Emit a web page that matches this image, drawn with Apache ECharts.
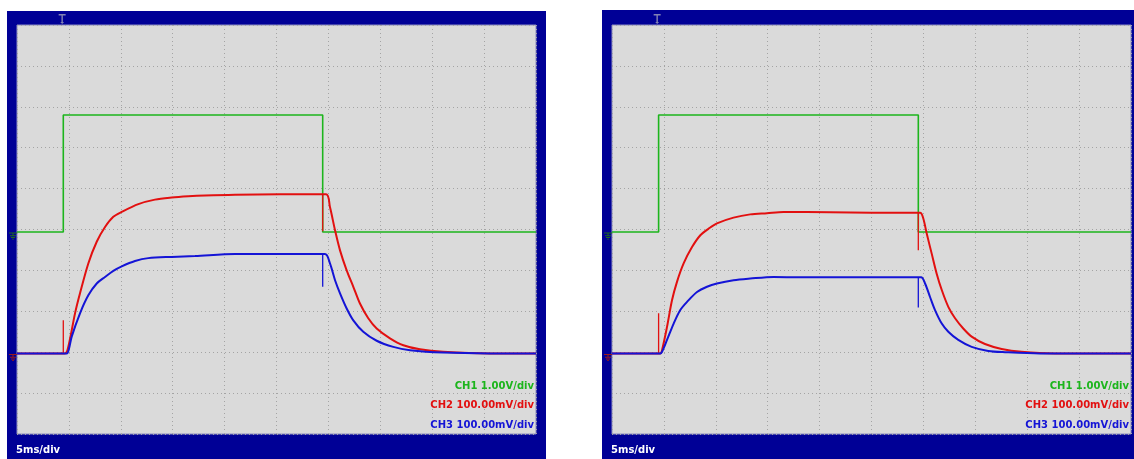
<!DOCTYPE html>
<html>
<head>
<meta charset="utf-8">
<script src="https://cdn.jsdelivr.net/npm/echarts@6/dist/echarts.min.js"></script>
<style>
  html, body { margin: 0; padding: 0; background: #fff; }
  #chart { width: 1134px; height: 459px; }
</style>
</head>
<body>
<div id="chart"></div>
<script>
// two scope captures, x in ms (5ms/div, 10 div), y in screen divisions (0..10)
const timeTicks = [0, 5, 10, 15, 20, 25, 30, 35, 40, 45, 50];
const divTicks = [0, 1, 2, 3, 4, 5, 6, 7, 8, 9, 10];

const chNames = ['CH1 1.00V/div', 'CH2 100.00mV/div', 'CH3 100.00mV/div'];
const timeLabel = '5ms/div';

// ground reference levels (div) for CH1 and CH2/CH3, trigger time (ms)
const groundLevels = [4.94, 1.97];
const triggerTimes = [4.35, 4.35];

// left capture
const leftCh1 = [[0, 4.94], [4.46, 4.94], [4.46, 7.80], [29.45, 7.80], [29.45, 4.94], [50, 4.94]];
const leftCh2 = [[0, 1.97], [4.62, 1.97], [4.94, 2.13],
  [5.59, 2.95], [6.07, 3.44], [6.87, 4.17], [7.68, 4.70], [8.48, 5.06], [9.28, 5.31], [10.09, 5.43],
  [11.69, 5.62], [13.29, 5.73], [14.90, 5.78], [16.50, 5.81], [18.11, 5.83], [21.00, 5.85],
  [25.34, 5.86], [29.77, 5.86], [30.15, 5.55],
  [30.64, 4.98], [31.12, 4.49], [31.76, 4.00], [32.40, 3.60], [33.04, 3.19], [33.84, 2.83],
  [34.65, 2.58], [35.93, 2.34], [37.22, 2.17], [38.82, 2.07], [41.07, 2.01], [45.57, 1.97], [50, 1.97]];
const leftCh3 = [[0, 1.97], [4.79, 1.97], [5.00, 2.08], [5.27, 2.38], [6.07, 2.95], [6.87, 3.39],
  [7.68, 3.68], [8.48, 3.84], [9.28, 3.99], [10.09, 4.10], [11.37, 4.23], [12.65, 4.30],
  [14.90, 4.33], [17.15, 4.35], [21.00, 4.40], [29.67, 4.40], [30.15, 4.17], [30.64, 3.76],
  [31.12, 3.44], [31.76, 3.07], [32.40, 2.78],
  [33.36, 2.50], [34.65, 2.28], [36.25, 2.13], [37.86, 2.05], [41.04, 1.99], [45.57, 1.97], [50, 1.97]];
// glitches on the traces: [ms, from div, to div]
const leftCh2Spikes = [[4.46, 1.97, 2.78], [29.45, 5.87, 4.96]];
const leftCh3Spikes = [[29.45, 4.40, 3.60]];

// right capture
const rightCh1 = [[0, 4.94], [4.49, 4.94], [4.49, 7.80], [29.51, 7.80], [29.51, 4.94], [50, 4.94]];
const rightCh2 = [[0, 1.97], [4.66, 1.97], [4.82, 2.05],
  [5.30, 2.62], [5.78, 3.27], [6.26, 3.72], [6.90, 4.17], [7.71, 4.57], [8.51, 4.86], [9.31, 5.02],
  [10.11, 5.15], [11.71, 5.29], [13.32, 5.37], [14.93, 5.40], [16.52, 5.43], [21.02, 5.42],
  [25.00, 5.41], [29.68, 5.41], [29.99, 5.27],
  [30.32, 4.90], [30.80, 4.41], [31.28, 3.92], [31.77, 3.52], [32.40, 3.11], [33.05, 2.83],
  [33.84, 2.58], [34.65, 2.38], [35.93, 2.20], [37.54, 2.08], [39.46, 2.01], [42.67, 1.97], [50, 1.97]];
const rightCh3 = [[0, 1.97], [4.66, 1.97], [4.82, 2.01], [5.30, 2.30], [5.94, 2.70], [6.58, 3.03],
  [7.23, 3.23], [8.19, 3.47], [9.15, 3.60], [10.11, 3.68], [11.71, 3.76], [13.32, 3.80],
  [15.56, 3.84], [18.14, 3.83], [21.02, 3.83], [29.77, 3.83], [30.16, 3.68], [30.64, 3.35],
  [31.12, 3.03], [31.77, 2.70], [32.40, 2.50],
  [33.36, 2.30], [34.65, 2.13], [36.25, 2.03], [37.86, 2.00], [41.23, 1.97], [50, 1.97]];
const rightCh2Spikes = [[4.49, 1.97, 2.95], [29.51, 5.41, 4.49]];
const rightCh3Spikes = [[29.51, 3.83, 3.09]];

const traceColors = ['#1cb51c', '#e21010', '#1414d6'];
const groundColors = ['#1f6b1f', '#9c1a1a'];
const frameColor = '#000096';

// little scope glyphs
const groundPath = 'path://M0,0H8V1H0Z M3.5,0H4.5V3H3.5Z M1,3H7V4H1Z M2,4.8H6V5.8H2Z M3,6.4H5V7.2H3Z';
const trigPath = 'path://M0,0H7V1.4H4.2V8H5.4L3.5,10L1.6,8H2.8V1.4H0Z';

const panels = [
  { left: 17, frameLeft: 7, frameTop: 11, data: [leftCh1, leftCh2, leftCh3],
    spikes: [[], leftCh2Spikes, leftCh3Spikes] },
  { left: 612, frameLeft: 602, frameTop: 10, data: [rightCh1, rightCh2, rightCh3],
    spikes: [[], rightCh2Spikes, rightCh3Spikes] }
];
const plotTop = 25, plotW = 519, plotH = 409;

const chart = echarts.init(document.getElementById('chart'));

const grids = [], xAxes = [], yAxes = [], series = [], graphics = [];
const dotted = { show: true, lineStyle: { color: '#a4a4a4', width: 1, type: [1, 3] } };

panels.forEach((p, i) => {
  grids.push({
    left: p.left, top: plotTop, width: plotW, height: plotH,
    show: true, backgroundColor: '#dadada', borderColor: '#8c8cc0', borderWidth: 1
  });
  xAxes.push({
    gridIndex: i, type: 'value', min: timeTicks[0], max: timeTicks[timeTicks.length - 1],
    interval: timeTicks[1] - timeTicks[0],
    axisLine: { show: false }, axisTick: { show: false }, axisLabel: { show: false },
    splitLine: dotted
  });
  yAxes.push({
    gridIndex: i, type: 'value', min: divTicks[0], max: divTicks[divTicks.length - 1],
    interval: divTicks[1] - divTicks[0],
    axisLine: { show: false }, axisTick: { show: false }, axisLabel: { show: false },
    splitLine: dotted
  });

  // draw order: green, blue, red (red sits on top at the baseline)
  [0, 2, 1].forEach(c => {
    const s = {
      type: 'line', xAxisIndex: i, yAxisIndex: i, data: p.data[c],
      showSymbol: false, silent: true, clip: true,
      smooth: c === 0 ? false : 0.3,
      lineStyle: { color: traceColors[c], width: c === 0 ? 1.6 : 2 },
      z: 3 + c
    };
    if (c < 2) {
      const mp = [{
        coord: [timeTicks[0], groundLevels[c]], symbol: groundPath,
        symbolSize: [8, 7], symbolOffset: [-4, 4], itemStyle: { color: groundColors[c] }
      }];
      if (c === 0) {
        mp.push({
          coord: [triggerTimes[i], divTicks[divTicks.length - 1]], symbol: trigPath,
          symbolSize: [7, 10], symbolOffset: [0, -6], itemStyle: { color: '#8282b4' }
        });
      }
      s.markPoint = { silent: true, label: { show: false }, data: mp };
    }
    series.push(s);

    // thin vertical glitches
    p.spikes[c].forEach(sp => {
      series.push({
        type: 'line', xAxisIndex: i, yAxisIndex: i,
        data: [[sp[0], sp[1]], [sp[0], sp[2]]],
        showSymbol: false, silent: true,
        lineStyle: { color: traceColors[c], width: 1.3 }, z: 3 + c
      });
    });
  });

  // blue scope frame behind the plot
  graphics.push({
    type: 'rect', z: -10, silent: true,
    shape: { x: p.frameLeft, y: p.frameTop, width: plotW + 20, height: 459 - p.frameTop + 2 },
    style: { fill: frameColor }
  });
  const right = p.left + plotW - 2;
  const tStyle = { font: 'bold 10px "DejaVu Sans"', textAlign: 'right', textVerticalAlign: 'middle' };
  [386, 405, 425].forEach((y, c) => {
    graphics.push({
      type: 'text', z: 50, silent: true, x: right, y: y,
      style: Object.assign({ text: chNames[c], fill: traceColors[c] }, tStyle)
    });
  });
  graphics.push({
    type: 'text', z: 50, silent: true, x: p.left - 1, y: 450,
    style: { text: timeLabel, fill: '#ffffff', font: 'bold 10px "DejaVu Sans"', textVerticalAlign: 'middle' }
  });
});

chart.setOption({
  animation: false,
  backgroundColor: '#ffffff',
  grid: grids,
  xAxis: xAxes,
  yAxis: yAxes,
  series: series,
  graphic: graphics
});
</script>
</body>
</html>
